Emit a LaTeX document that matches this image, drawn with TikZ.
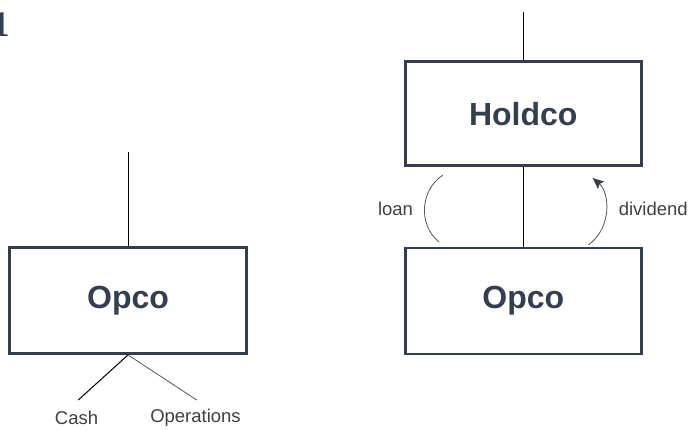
\documentclass[tikz,border=0pt]{standalone}
\usepackage{fontspec}
\setmainfont{Liberation Sans}
\newfontfamily\glyphfont{Liberation Serif}
\usetikzlibrary{arrows.meta}
\definecolor{navy}{HTML}{333F50}
\definecolor{lblgray}{HTML}{404040}
\definecolor{arcgray}{HTML}{4A5566}
\tikzset{
  entity/.style={draw=navy, line width=2.8pt, fill=white, inner sep=0pt,
    minimum width=236pt, minimum height=105pt,
    font=\fontsize{32}{38}\selectfont\bfseries, text=navy},
  lbl/.style={font=\fontsize{18.5}{22}\selectfont, text=lblgray, inner sep=0pt},
  conn/.style={draw=black, line width=1pt},
  arcline/.style={draw=arcgray, line width=0.8pt},
}
\begin{document}
\begin{tikzpicture}[x=1pt,y=-1pt]
\useasboundingbox[fill=white] (0,0) rectangle (689,429);
% cropped heading glyph
\node[anchor=base west, inner sep=0pt, text=navy,
  font=\glyphfont\fontsize{36}{40}\selectfont\bfseries] (hd) at (-8.6,36.7) {1};
% left
\node[entity, minimum width=237pt, minimum height=106pt] (opcoL) at (128,300.5) {Opco};
\coordinate (topL) at (128,152);
\draw[conn] (topL) -- (opcoL.north);
\coordinate (cashE) at (78.3,400);
\coordinate (opsE) at (196.7,400);
\draw[conn] (opcoL.south) -- (cashE);
\draw[arcline] (opcoL.south) -- (opsE);
\node[lbl] (cash) at (76.5,418) {Cash};
\node[lbl] (ops) at (195.5,418) {Operations};
% right
\node[entity, minimum height=104.5pt] (hold) at (523.3,113.6) {Holdco};
\node[entity, minimum height=106pt] (opcoR) at (523.3,301) {Opco};
\coordinate (topR) at (523.3,12);
\draw[conn] (topR) -- (hold.north);
\draw[conn] (hold.south) -- (opcoR.north);
\coordinate (loanA) at (439,242);
\coordinate (loanB) at (443,175);
\draw[arcline] (loanA) .. controls (418,225) and (420,190) .. (loanB);
\coordinate (divA) at (588.3,245);
\coordinate (divB) at (592.7,178);
\draw[arcline, -{Stealth[length=11pt,width=9.5pt,inset=2pt,fill=navy,color=navy]}] (divA) .. controls (612,228) and (610,193) .. (divB);
\node[lbl] (loan) at (395.5,209) {loan};
\node[lbl] (div) at (653.3,209) {dividend};
\end{tikzpicture}
\end{document}
